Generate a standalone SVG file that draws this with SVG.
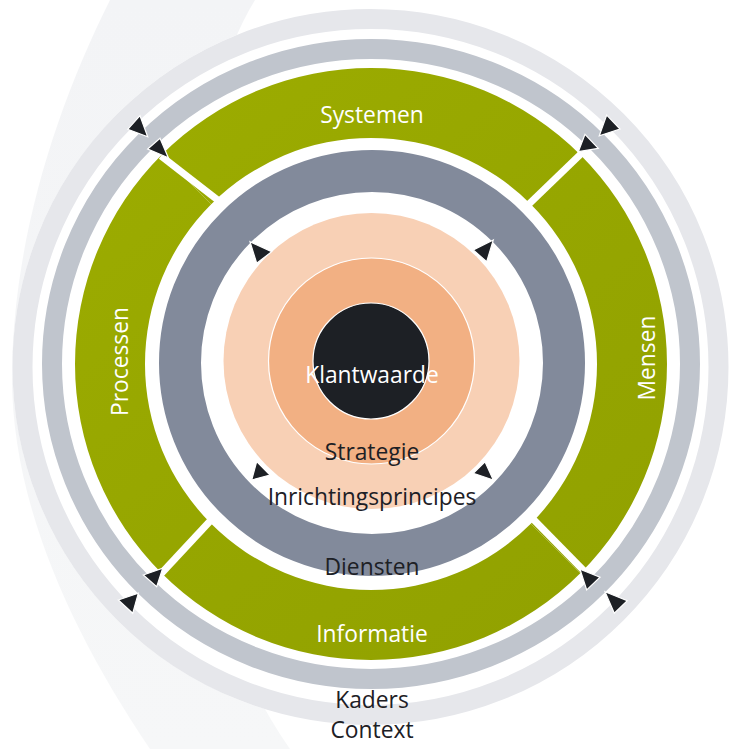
<svg xmlns="http://www.w3.org/2000/svg" width="730" height="749" viewBox="0 0 730 749">
  <defs>
    <linearGradient id="greenFill" gradientUnits="userSpaceOnUse" x1="120" y1="80" x2="620" y2="660">
      <stop offset="0" stop-color="#9cac00"/>
      <stop offset="0.5" stop-color="#96a600"/>
      <stop offset="1" stop-color="#91a100"/>
    </linearGradient>
    <linearGradient id="swooshFill" gradientUnits="userSpaceOnUse" x1="0" y1="0" x2="0" y2="749">
      <stop offset="0" stop-color="#f3f4f6"/>
      <stop offset="1" stop-color="#f6f7f8"/>
    </linearGradient>
    <style>
      .label { font-family: "Open Sans", "Liberation Sans", sans-serif; font-size: 22.8px; text-anchor: middle; }
      .light { fill: #ffffff; }
      .dark { fill: #1d2025; }
      .segment { fill: url(#greenFill); }
      .arrowhead { fill: #1d2025; stroke: #ffffff; stroke-width: 1.2; stroke-linejoin: miter; }
      .spoke { stroke: #ffffff; stroke-width: 7; stroke-linecap: butt; fill: none; }
    </style>
  </defs>

  <!-- page background and soft swoosh on the left -->
  <rect x="0" y="0" width="730" height="749" fill="#ffffff"/>
  <path d="M110,0 L255,0 C170,140 130,520 290,749 L150,749 C70,630 10,500 12,370 C14,240 55,110 110,0 Z" fill="url(#swooshFill)"/>

  <!-- white base disc under the rings -->
  <circle cx="370.5" cy="367" r="358" fill="#ffffff"/>

  <g id="context">
    <circle cx="370.5" cy="367" r="348" fill="none" stroke="#e6e7eb" stroke-width="20"/>
    <text class="label dark" x="372" y="738">Context</text>
  </g>

  <g id="kaders">
    <ellipse cx="371" cy="364" rx="319" ry="315" fill="none" stroke="#c0c5cd" stroke-width="20"/>
    <text class="label dark" x="372" y="708">Kaders</text>
  </g>

  <g id="systemen">
    <path class="segment" d="M161.70,154.70 A296,296 0 0 1 580.30,154.70 L530.81,204.19 A226,226 0 0 0 211.19,204.19 Z"/>
    <text class="label light" x="372" y="123">Systemen</text>
  </g>

  <g id="mensen">
    <path class="segment" d="M580.30,154.70 A296,296 0 0 1 580.30,573.30 L530.81,523.81 A226,226 0 0 0 530.81,204.19 Z"/>
    <text class="label light" transform="translate(655,358) rotate(-90)">Mensen</text>
  </g>

  <g id="informatie">
    <path class="segment" d="M580.30,573.30 A296,296 0 0 1 161.70,573.30 L211.19,523.81 A226,226 0 0 0 530.81,523.81 Z"/>
    <text class="label light" x="372" y="642">Informatie</text>
  </g>

  <g id="processen">
    <path class="segment" d="M161.70,573.30 A296,296 0 0 1 161.70,154.70 L211.19,204.19 A226,226 0 0 0 211.19,523.81 Z"/>
    <text class="label light" transform="translate(128,361.5) rotate(-90)">Processen</text>
  </g>

  <g id="diensten">
    <circle cx="372" cy="363" r="192" fill="none" stroke="#828a9b" stroke-width="42"/>
    <text class="label dark" x="372" y="575">Diensten</text>
  </g>

  <g id="inrichtingsprincipes">
    <circle cx="371.5" cy="361" r="148" fill="#f8d0b5"/>
    <text class="label dark" x="372" y="505">Inrichtingsprincipes</text>
  </g>

  <g id="strategie">
    <circle cx="371.5" cy="361" r="103" fill="#f2b083" stroke="#ffffff" stroke-width="1.2"/>
    <text class="label dark" x="372" y="460">Strategie</text>
  </g>

  <g id="klantwaarde">
    <circle cx="371" cy="361" r="58" fill="#1d2025" stroke="#ffffff" stroke-width="1.2"/>
    <text class="label light" x="372" y="383">Klantwaarde</text>
  </g>

  <!-- connectors: white spokes through the green ring and their arrowheads -->
  <g id="connectors">
    <line class="spoke" x1="219" y1="201" x2="161" y2="156"/>
    <line class="spoke" x1="529" y1="204" x2="585" y2="150"/>
    <line class="spoke" x1="212" y1="519" x2="158" y2="577"/>
    <line class="spoke" x1="533" y1="519" x2="590" y2="577"/>

    <!-- outer pairs -->
    <polygon class="arrowhead" points="127.7,129.3 140,115.7 147.7,136.7"/>
    <polygon class="arrowhead" points="147.7,149 160,138.3 168.3,157.7"/>
    <polygon class="arrowhead" points="599.3,135.7 606.7,115 620,129"/>
    <polygon class="arrowhead" points="578.3,151.7 585,134.3 598.3,148.3"/>
    <polygon class="arrowhead" points="143.3,575 162.7,568.3 156.7,586.7"/>
    <polygon class="arrowhead" points="118.3,600 138.3,593.3 132.7,613.3"/>
    <polygon class="arrowhead" points="580,569.3 600,577.3 586.7,590"/>
    <polygon class="arrowhead" points="605,591.7 627.3,600.7 614.3,613.3"/>

    <!-- inner ring arrows -->
    <polygon class="arrowhead" points="250,241.7 271.7,251.7 256.7,263.3"/>
    <polygon class="arrowhead" points="493.3,240 473.3,250 486.7,261.7"/>
    <polygon class="arrowhead" points="251.7,480 256.7,461.7 270,475"/>
    <polygon class="arrowhead" points="493.3,480 473.3,473.3 485,461.7"/>
  </g>
</svg>
